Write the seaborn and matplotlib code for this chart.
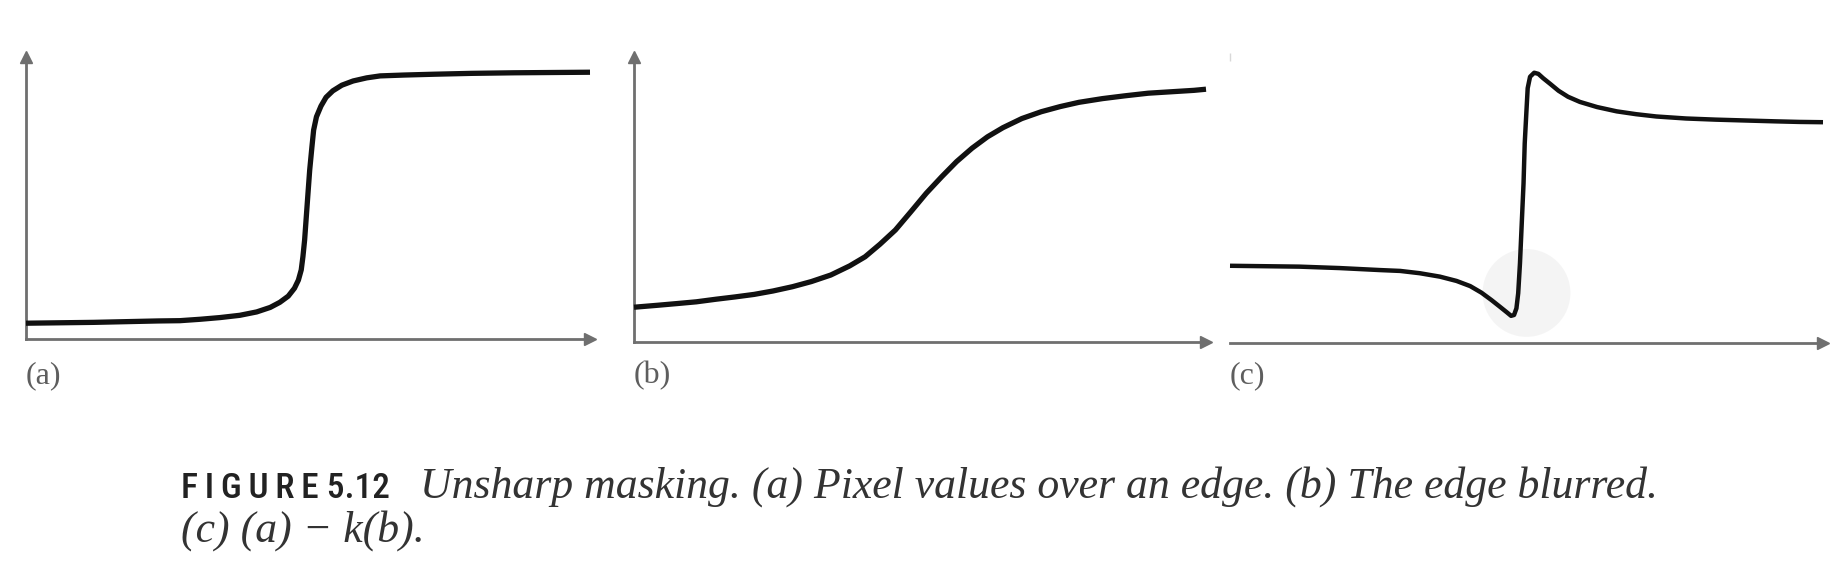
"""Unsharp masking figure: edge profile, blurred edge and (a) - k(b)."""

import matplotlib.pyplot as plt
import seaborn as sns
from matplotlib import font_manager

# curve samples, in percent of each axis (x: origin -> arrow tip)
EDGE_X = [0, 12.0, 23.4, 27.3, 30.9, 34.4, 37.9, 40.9, 43.3, 45.0, 46.5, 47.6,
          48.3, 48.8, 49.1, 49.4, 49.7, 50.0, 50.3, 50.7, 51.0, 51.5, 52.3,
          53.2, 54.4, 56.0, 58.0, 60.4, 62.8, 67.0, 72.5, 79.0, 86.5, 100]
EDGE_Y = [5.6, 5.9, 6.4, 6.5, 7.0, 7.6, 8.4, 9.6, 11.2, 13.0, 15.2, 18.0,
          20.9, 24.5, 29.2, 35.1, 43.4, 51.7, 59.9, 68.2, 74.1, 78.8, 82.6,
          85.7, 88.0, 90.0, 91.5, 92.6, 93.3, 93.6, 93.9, 94.2, 94.4, 94.6]

BLUR_X = [0, 4.2, 7.6, 10.9, 14.3, 17.6, 21.0, 24.3, 27.7, 31.0, 34.4, 37.7,
          40.4, 43.0, 45.7, 48.4, 51.1, 53.8, 56.4, 59.1, 61.8, 64.5, 67.8,
          71.2, 74.5, 77.8, 81.9, 85.9, 89.9, 93.9, 97.9, 100]
BLUR_Y = [12.2, 12.9, 13.5, 14.1, 15.0, 15.8, 16.7, 17.9, 19.4, 21.2, 23.5,
          26.7, 29.9, 34.3, 39.3, 45.7, 52.2, 58.0, 63.3, 68.0, 72.0, 75.2,
          78.4, 80.8, 82.6, 84.1, 85.4, 86.4, 87.3, 87.8, 88.3, 88.7]

SHARP_X = [0, 11.7, 18.5, 25.3, 28.7, 32.0, 35.4, 38.2, 40.5, 42.4, 44.1, 45.5,
           46.7, 47.4, 47.9, 48.3, 48.6, 48.9, 49.2, 49.5, 49.7, 50.0, 50.2,
           50.6, 51.3, 52.0, 52.8, 54.0, 55.4, 57.0, 59.0, 61.9, 65.2, 68.5,
           71.9, 76.9, 81.9, 86.9, 92.0, 96.0, 100]
SHARP_Y = [27.0, 26.7, 26.2, 25.5, 25.2, 24.4, 23.2, 21.7, 19.9, 17.6, 15.0,
           12.7, 10.7, 9.5, 9.8, 12.1, 17.4, 27.9, 41.9, 55.8, 69.8, 81.5,
           89.1, 93.1, 94.5, 94.1, 92.6, 90.6, 88.2, 86.1, 84.3, 82.5, 81.0,
           80.0, 79.2, 78.5, 78.1, 77.8, 77.5, 77.3, 77.2]

# faint cursor highlight seen in panel (c)
HIGHLIGHT_X = [50.0]
HIGHLIGHT_Y = [17.5]

PANEL_LABELS = ["(a)", "(b)", "(c)"]
CAPTION_TAG = "F\u2009I\u2009G\u2009U\u2009R\u2009E 5.12"
CAPTION_LINE1 = "Unsharp masking. (a) Pixel values over an edge. (b) The edge blurred."
CAPTION_LINE2 = "(c) (a) \u2212 k(b)."

W, H = 1842, 568
AXIS_COLOR = "#6f6f6f"
CURVE_COLOR = "#111111"
SERIF = ["Liberation Serif", "DejaVu Serif"]


def px_rect(left, right, bottom, top):
    return [left / W, (H - bottom) / H, (right - left) / W, (bottom - top) / H]


def pick_narrow():
    names = {f.name for f in font_manager.fontManager.ttflist}
    for name in ["Liberation Sans Narrow", "DejaVu Sans Condensed", "Roboto Condensed"]:
        if name in names:
            return name
    return "DejaVu Sans"


def arrow_axes(ax, show_y=True):
    sns.despine(ax=ax, top=True, right=True)
    for side in ["bottom", "left"]:
        ax.spines[side].set_color(AXIS_COLOR)
        ax.spines[side].set_linewidth(2.0)
    ax.spines["left"].set_visible(show_y)
    ax.plot(1, 0, ">", color=AXIS_COLOR, markersize=8, transform=ax.transAxes, clip_on=False)
    if show_y:
        ax.plot(0, 1, "^", color=AXIS_COLOR, markersize=8, transform=ax.transAxes, clip_on=False)
    else:
        ax.plot(0, 1, "|", color="#d8d8d8", markersize=6, transform=ax.transAxes, clip_on=False)
    ax.set_xlim(0, 100)
    ax.set_ylim(0, 100)
    ax.set_xticks([])
    ax.set_yticks([])
    ax.set_xlabel("")
    ax.set_ylabel("")
    ax.grid(False)


def main():
    sns.set_theme(style="white")
    plt.rcParams["font.family"] = ["DejaVu Sans"]

    fig = plt.figure(figsize=(W / 100, H / 100), dpi=100)
    rects = [
        px_rect(26, 590, 339, 57),
        px_rect(634, 1206, 342, 57),
        px_rect(1230, 1823, 343, 57),
    ]
    series = [(EDGE_X, EDGE_Y, 3.8), (BLUR_X, BLUR_Y, 3.8), (SHARP_X, SHARP_Y, 3.2)]

    for i, (rect, (xs, ys, lw)) in enumerate(zip(rects, series)):
        ax = fig.add_axes(rect)
        if i == 2:
            ax.scatter(HIGHLIGHT_X, HIGHLIGHT_Y, s=4000, color="#f2f2f2", alpha=0.8,
                       edgecolor="none", zorder=0, clip_on=False)
        sns.lineplot(x=xs, y=ys, ax=ax, color=CURVE_COLOR, linewidth=lw,
                     sort=False, estimator=None, zorder=3)
        for line in ax.lines:
            line.set_solid_capstyle("butt")
            line.set_solid_joinstyle("round")
            line.set_clip_on(False)
        arrow_axes(ax, show_y=(i != 2))
        fig.text(rect[0], (H - 376) / H, PANEL_LABELS[i], family=SERIF, fontsize=23,
                 color="#5e5e5e", ha="left", va="center")

    fig.text(181 / W, (H - 498) / H, CAPTION_TAG, family=[pick_narrow(), "DejaVu Sans"],
             fontstretch="condensed", fontweight="medium", fontsize=25.5, color="#222222",
             ha="left", va="baseline")
    fig.text(420 / W, (H - 498) / H, CAPTION_LINE1, family=SERIF,
             style="italic", fontsize=31.5, color="#333333", ha="left", va="baseline")
    fig.text(181 / W, (H - 542) / H, CAPTION_LINE2, family=SERIF,
             style="italic", fontsize=31.5, color="#333333", ha="left", va="baseline")

    fig.savefig("out.png", dpi=100, facecolor="white")
    plt.close(fig)


if __name__ == "__main__":
    main()
